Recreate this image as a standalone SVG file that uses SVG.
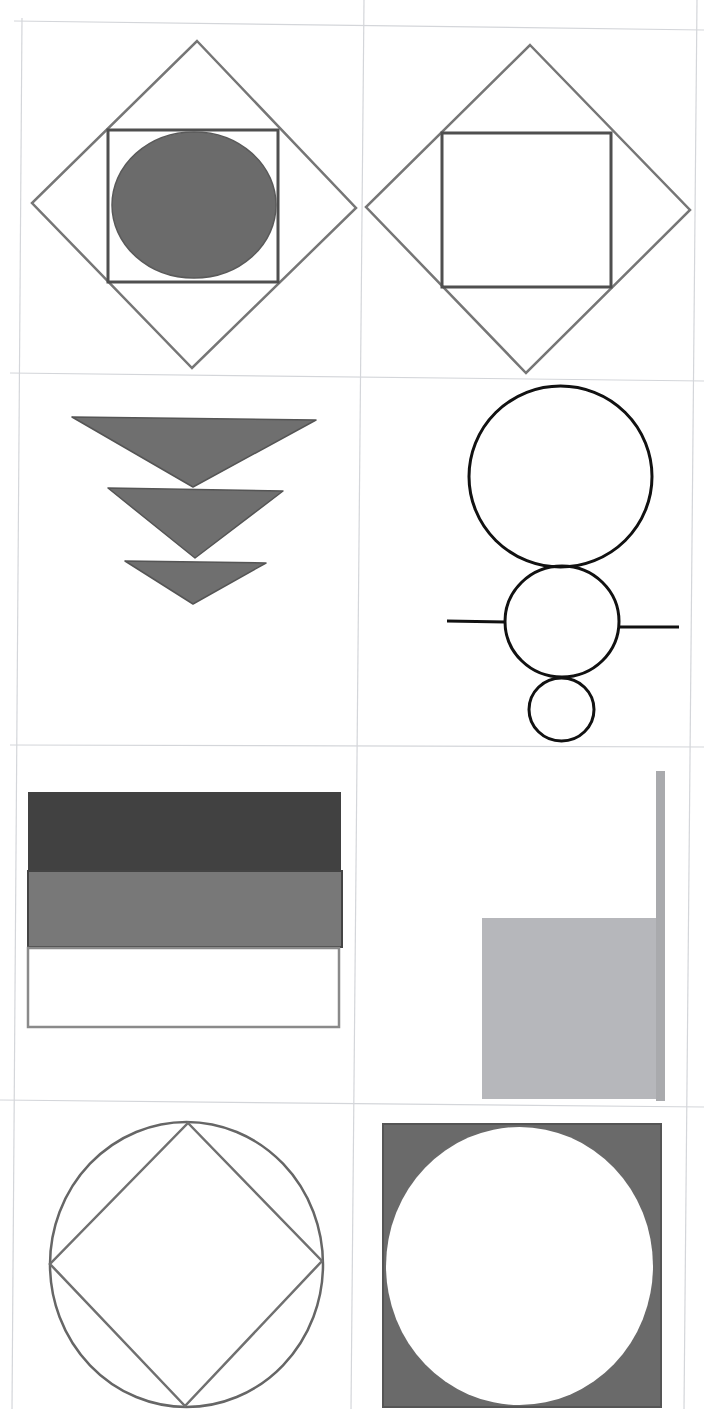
<svg xmlns="http://www.w3.org/2000/svg" width="704" height="1409" viewBox="0 0 704 1409">
<style>
.grid{stroke:#d4d6da;stroke-width:1.2;fill:none}
.thin{fill:none;stroke:#767676;stroke-width:2.5;stroke-linejoin:miter}
.sq{fill:none;stroke:#4f4f4f;stroke-width:3}
.tri{fill:#6f6f6f;stroke:#555;stroke-width:1.5;stroke-linejoin:round}
.blk{fill:none;stroke:#111;stroke-width:3}
</style>
<rect width="704" height="1409" fill="#fff"/>
<g id="grid">
<line class="grid" x1="22" y1="18" x2="12" y2="1409"/>
<line class="grid" x1="364" y1="0" x2="351" y2="1409"/>
<line class="grid" x1="697" y1="0" x2="684" y2="1409"/>
<line class="grid" x1="14" y1="21" x2="704" y2="30"/>
<line class="grid" x1="10" y1="373" x2="704" y2="381"/>
<line class="grid" x1="10" y1="745" x2="704" y2="747"/>
<line class="grid" x1="0" y1="1100" x2="704" y2="1107"/>
</g>
<g id="cell1">
<polygon class="thin" points="197,41 356,208 192,368 32,203"/>
<rect class="sq" x="108" y="130" width="170" height="152"/>
<ellipse cx="194" cy="205" rx="82" ry="73" fill="#6b6b6b" stroke="#5a5a5a" stroke-width="1.5"/>
</g>
<g id="cell2">
<polygon class="thin" points="530,45 690,210 526,373 366,207"/>
<rect class="sq" x="442" y="133" width="169" height="154"/>
</g>
<g id="cell3">
<polygon class="tri" points="72,417 316,420 193,487"/>
<polygon class="tri" points="108,488 283,491 195,558"/>
<polygon class="tri" points="125,561 266,563 193,604"/>
</g>
<g id="cell4">
<line class="blk" x1="447" y1="621" x2="505" y2="622"/>
<line class="blk" x1="619" y1="627" x2="679" y2="627"/>
<ellipse class="blk" cx="560.5" cy="476.5" rx="91.5" ry="90.5"/>
<ellipse class="blk" cx="562" cy="621.5" rx="57" ry="55.5"/>
<ellipse class="blk" cx="561.5" cy="709.5" rx="32.5" ry="31.5"/>
</g>
<g id="cell5">
<rect x="28" y="792" width="313" height="80" fill="#414141"/>
<rect x="28" y="871" width="314" height="76" fill="#787878" stroke="#444" stroke-width="2"/>
<rect x="28" y="948" width="311" height="79" fill="#fff" stroke="#8a8a8a" stroke-width="2.5"/>
</g>
<g id="cell6">
<rect x="482" y="918" width="176" height="181" fill="#b6b7bb"/>
<rect x="656" y="771" width="9" height="330" fill="#a9aaad"/>
</g>
<g id="cell7">
<ellipse cx="186.5" cy="1264.5" rx="136.5" ry="142.5" fill="none" stroke="#666" stroke-width="2.5"/>
<polygon class="thin" points="188,1123 322,1261 185,1406 50,1264" style="stroke:#707070"/>
</g>
<g id="cell8">
<rect x="383" y="1124" width="278" height="283" fill="#6a6a6a" stroke="#555" stroke-width="2"/>
<ellipse cx="519.5" cy="1266" rx="133.5" ry="139" fill="#fff"/>
</g>
</svg>
